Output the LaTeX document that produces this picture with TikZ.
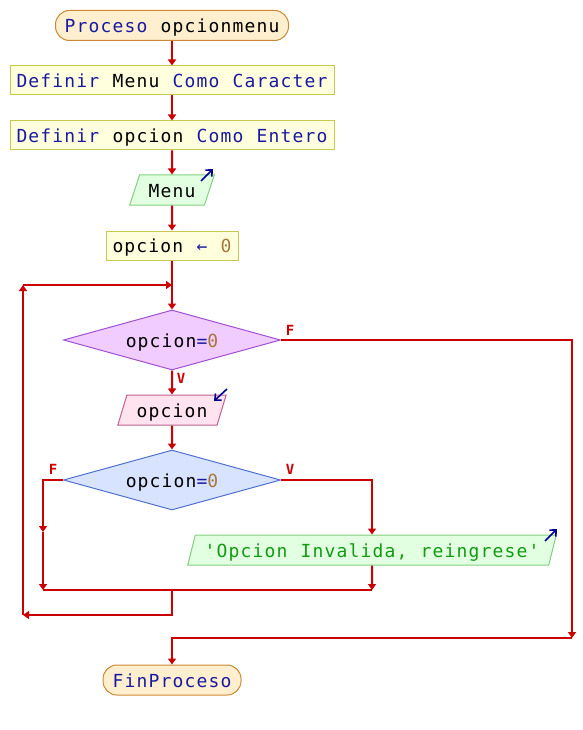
\documentclass[tikz,border=0pt]{standalone}
\usepackage{fontspec}
\setmonofont{DejaVu Sans Mono}[LetterSpace=6.4, WordSpace=1.107]
\newfontfamily\lblfont{DejaVu Sans Mono}
\usetikzlibrary{arrows.meta,shapes.geometric}
\definecolor{fred}{HTML}{CC0000}
\definecolor{termF}{HTML}{FFEFCF}
\definecolor{termB}{HTML}{CC8833}
\definecolor{procF}{HTML}{FFFFDD}
\definecolor{procB}{HTML}{C8C850}
\definecolor{kwC}{HTML}{1A1AA0}
\definecolor{numC}{HTML}{A87838}
\definecolor{outF}{HTML}{E2FFE2}
\definecolor{outB}{HTML}{80D080}
\definecolor{outT}{HTML}{109B10}
\definecolor{inF}{HTML}{FFE4F0}
\definecolor{inB}{HTML}{C06090}
\definecolor{dAF}{HTML}{F0CCFF}
\definecolor{dAB}{HTML}{A050D0}
\definecolor{dBF}{HTML}{D8E4FF}
\definecolor{dBB}{HTML}{5070D0}
\definecolor{iconC}{HTML}{000090}
\newcommand{\kw}[1]{\textcolor{kwC}{#1}}
\newcommand{\nm}[1]{\textcolor{numC}{#1}}
\begin{document}
\begin{tikzpicture}[x=1pt,y=-1pt,
  font=\fontsize{18}{20}\selectfont\ttfamily,
  every node/.style={text height=15pt, text depth=1pt, inner sep=0pt},
  arr/.style={draw=fred, line width=2pt, -{Triangle[width=8pt,length=6pt]}},
  ln/.style={draw=fred, line width=2pt},
  term/.style={rectangle, rounded corners=14pt, draw=termB, fill=termF, line width=1pt, minimum height=30pt},
  proc/.style={rectangle, draw=procB, fill=procF, line width=1pt, minimum height=29pt},
  io/.style={trapezium, trapezium left angle=66, trapezium right angle=114, trapezium stretches=true, minimum height=30pt, line width=1pt},
  dec/.style={diamond, shape aspect=3.6, minimum width=217pt, minimum height=60pt, line width=1pt},
  lbl/.style={text=fred, font=\fontsize{14}{15}\selectfont\lblfont\bfseries, text height=10pt, text depth=0pt},
  icon/.style={draw=iconC, line width=1.6pt, -{Straight Barb[length=5pt,width=9pt]}}
]
\useasboundingbox (0,0) rectangle (582,730);

\node[term, minimum width=233pt] (start) at (172,25.5) {\kw{Proceso} opcionmenu};
\node[proc, minimum width=324pt] (def1) at (172,80.5) {\kw{Definir} Menu \kw{Como Caracter}};
\node[proc, minimum width=324pt] (def2) at (172,135.5) {\kw{Definir} opcion \kw{Como Entero}};
\node[io, fill=outF, draw=outB, minimum width=85pt] (menu) at (172,190) {Menu};
\node[proc, minimum width=132pt] (asig) at (172,245.5) {opcion \kw{←} \nm{0}};
\node[dec, fill=dAF, draw=dAB] (d1) at (172,340) {opcion\kw{=}\nm{0}};
\node[io, fill=inF, draw=inB, minimum width=109pt] (inp) at (172,410) {opcion};
\node[dec, fill=dBF, draw=dBB] (d2) at (172,480) {opcion\kw{=}\nm{0}};
\node[io, fill=outF, draw=outB, minimum width=370pt, text=outT] (msg) at (372,550) {'Opcion Invalida, reingrese'};
\node[term, minimum width=138pt] (fin) at (172,680) {\kw{FinProceso}};

\node[lbl] (lf1) at (290,330) {F};
\node[lbl] (lv1) at (181,378) {V};
\node[lbl] (lf2) at (53,469) {F};
\node[lbl] (lv2) at (290,469) {V};

\coordinate (top) at (172,285);
\coordinate (lt) at (23,285);
\coordinate (lb) at (23,615);
\coordinate (jb) at (172,615);
\coordinate (jn) at (172,590);
\coordinate (ljl) at (43,590);
\coordinate (ljr) at (372,590);
\coordinate (lm) at (43,532);
\coordinate (fb) at (572,638);
\coordinate (fj) at (172,638);

\draw[arr] (start.south) -- (def1.north);
\draw[arr] (def1.south) -- (def2.north);
\draw[arr] (def2.south) -- (menu.north);
\draw[arr] (menu.south) -- (asig.north);
\draw[ln] (asig.south) -- (top);
\draw[arr] (top) -- (d1.north);
\draw[arr] (d1.south) -- (inp.north);
\draw[arr] (inp.south) -- (d2.north);
\draw[arr] (d2.west) -| (lm);
\draw[arr] (lm) -- (ljl);
\draw[arr] (d2.east) -| (msg.north);
\draw[arr] (msg.south) -- (ljr);
\draw[ln] (ljl) -- (ljr);
\draw[arr] (jn) -- (jb) -- (lb);
\draw[arr] (lb) -- (lt);
\draw[arr] (lt) -- (top);
\draw[arr] (d1.east) -| (fb);
\draw[arr] (fb) -- (fj) -- (fin.north);

\draw[icon] ([shift={(29,-9)}]menu.center) -- ([shift={(41,-21)}]menu.center);
\draw[icon] ([shift={(55,-21)}]inp.center) -- ([shift={(42,-9)}]inp.center);
\draw[icon] ([shift={(173,-9)}]msg.center) -- ([shift={(185,-21)}]msg.center);
\end{tikzpicture}
\end{document}
